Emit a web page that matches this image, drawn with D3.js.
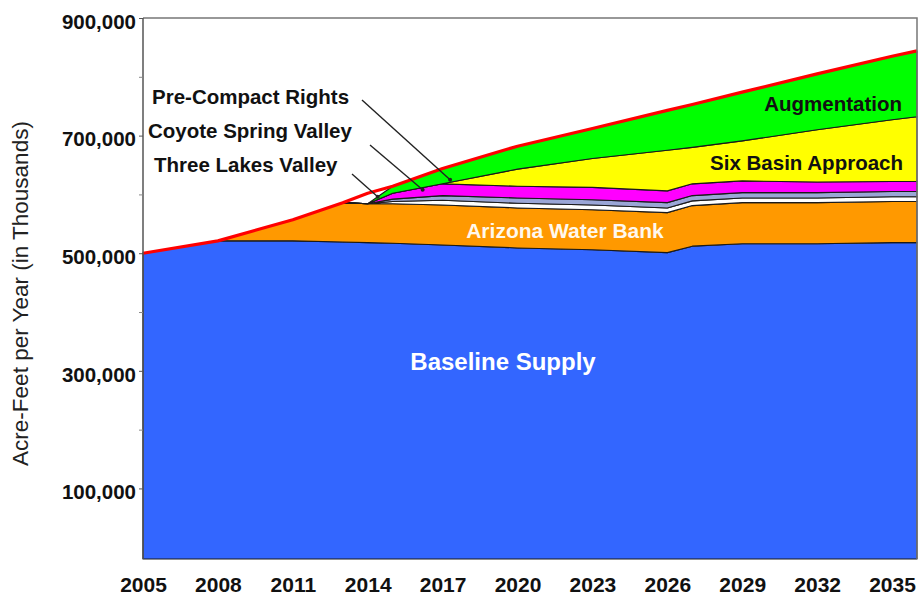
<!DOCTYPE html>
<html><head><meta charset="utf-8">
<script src="https://cdn.jsdelivr.net/npm/d3@7"></script>
<style>body{margin:0;background:#fff}svg{display:block}text{font-family:"Liberation Sans",Arial,sans-serif}</style>
</head><body><svg id="c" width="924" height="601"></svg>
<script>
// ---- data (acre-feet per year) ----
const years = [2005, 2008, 2011, 2013, 2014, 2015, 2017, 2020, 2023, 2026, 2027, 2029, 2032, 2035, 2036];
const baselineSupply     = [500000, 521000, 521000, 519000, 518000, 517000, 514000, 509000, 506000, 501000, 512000, 516000, 516000, 518000, 518000];
const arizonaWaterBank   = [0, 0, 36000, 67000, 66000, 67000, 68000, 68000, 68000, 68000, 69000, 70000, 70000, 70000, 70000];
const threeLakesValley   = [0, 0, 0, 0, 0, 4000, 8000, 8000, 8000, 8000, 8000, 8000, 8000, 8000, 8000];
const coyoteSpringValley = [0, 0, 0, 0, 0, 4000, 8000, 9000, 9000, 9000, 9000, 9000, 9000, 9000, 9000];
const preCompactRights   = [0, 0, 0, 0, 0, 10000, 20000, 20000, 21000, 20000, 20000, 20000, 18000, 17000, 17000];
const sixBasinApproach   = [0, 0, 0, 0, 0, 0, 0, 29000, 49000, 69000, 62000, 68000, 89000, 105000, 110000];
const augmentation       = [0, 0, 0, 0, 0, 12000, 26000, 39000, 51000, 68000, 73000, 83000, 95000, 108000, 112000];
const totalSupply        = [500000, 521000, 557000, 586000, 602000, 614000, 644000, 682000, 712000, 743000, 753000, 774000, 805000, 835000, 844000];

const xTickLabels = [2005, 2008, 2011, 2014, 2017, 2020, 2023, 2026, 2029, 2032, 2035];
const yTickLabels = [100000, 300000, 500000, 700000, 900000];
const yMinorTicks = [200000, 400000, 600000, 800000];

const seriesKeys  = ["baseline", "azbank", "threeLakes", "coyote", "preCompact", "sixBasin", "augmentation"];
const seriesColors = ["#3366ff", "#ff9900", "#ffffff", "#9aa6d6", "#ff00ff", "#ffff00", "#00ff00"];

// annotation anchors: [label, year, value]
const annotations = [
  ["Pre-Compact Rights", 2017.3, 625000],
  ["Coyote Spring Valley", 2016.2, 608000],
  ["Three Lakes Valley", 2014.4, 596000]
];

// ---- build table ----
const table = years.map((yr, i) => ({
  year: yr,
  baseline: baselineSupply[i],
  azbank: arizonaWaterBank[i],
  threeLakes: threeLakesValley[i],
  coyote: coyoteSpringValley[i],
  preCompact: preCompactRights[i],
  sixBasin: sixBasinApproach[i],
  augmentation: augmentation[i],
  total: totalSupply[i]
}));

const svg = d3.select("#c");
const x = d3.scaleLinear().domain([2005, 2036]).range([143, 917]);
const y = d3.scaleLinear().domain([-20000, 900000]).range([559, 18]);
const yBottom = y.domain()[0];

const stacked = d3.stack().keys(seriesKeys)(table);

const area = d3.area()
  .x(d => x(d.data.year))
  .y0(d => y(d[0] === 0 ? yBottom : d[0]))
  .y1(d => y(d[1]));

const plot = svg.append("g");
plot.selectAll("path.layer").data(stacked).join("path")
  .attr("class", "layer")
  .attr("d", area)
  .attr("fill", (d, i) => seriesColors[i])
  .attr("stroke", "#1a1a1a")
  .attr("stroke-width", 1.1)
  .attr("stroke-linejoin", "round");

// total red line
plot.append("path")
  .datum(table)
  .attr("d", d3.line().x(d => x(d.year)).y(d => y(d.total)))
  .attr("fill", "none")
  .attr("stroke", "#ff0000")
  .attr("stroke-width", 3.2)
  .attr("stroke-linejoin", "round");

// frame
const x0 = x.range()[0], x1 = x.range()[1], yTop = y(900000), yBot = y(yBottom);
svg.append("path")
  .attr("d", `M${x0},${yTop}H${x1}V${yBot}`)
  .attr("fill", "none").attr("stroke", "#777").attr("stroke-width", 1.5);

// y axis
const yAxis = svg.append("g").attr("transform", `translate(${x0},0)`)
  .call(d3.axisLeft(y).tickValues(yTickLabels).tickFormat(d3.format(",")).tickSizeOuter(0).tickSize(4).tickPadding(3));
yAxis.select(".domain").attr("stroke", "#555").attr("stroke-width", 1.5)
  .attr("d", `M0,${yTop}V${yBot}`);
yAxis.selectAll(".tick line").attr("stroke", "#555");
yAxis.selectAll(".tick text").attr("font-size", 20.5).attr("font-weight", "bold").attr("fill", "#111").attr("dy", "0.5em");
const yMinor = svg.append("g").attr("transform", `translate(${x0},0)`)
  .call(d3.axisLeft(y).tickValues(yMinorTicks).tickFormat("").tickSize(4));
yMinor.select(".domain").remove();
yMinor.selectAll(".tick line").attr("stroke", "#888");

// x axis
const xAxis = svg.append("g").attr("transform", `translate(0,${yBot})`)
  .call(d3.axisBottom(x).tickValues(xTickLabels).tickFormat(d3.format("d")).tickSize(0).tickPadding(18));
xAxis.select(".domain").remove();
xAxis.selectAll(".tick text").attr("font-size", 21).attr("font-weight", "bold").attr("fill", "#111");

// y title
svg.append("text")
  .attr("transform", `translate(28,${(yTop + yBot) / 2 + 5}) rotate(-90)`)
  .attr("text-anchor", "middle")
  .attr("font-size", 22.5)
  .attr("fill", "#222")
  .text("Acre-Feet per Year (in Thousands)");

// in-area labels
svg.append("text").attr("x", 503).attr("y", 370).attr("text-anchor", "middle")
  .attr("font-size", 24).attr("font-weight", "bold").attr("fill", "#fff").text("Baseline Supply");
svg.append("text").attr("x", 565).attr("y", 238).attr("text-anchor", "middle")
  .attr("font-size", 21).attr("font-weight", "bold").attr("fill", "#fff8ee").text("Arizona Water Bank");
svg.append("text").attr("x", 902).attr("y", 111).attr("text-anchor", "end")
  .attr("font-size", 20.5).attr("font-weight", "bold").attr("fill", "#111").text("Augmentation");
svg.append("text").attr("x", 903).attr("y", 170).attr("text-anchor", "end")
  .attr("font-size", 20.5).attr("font-weight", "bold").attr("fill", "#111").text("Six Basin Approach");

// annotation labels with leader lines
const labelPos = [[152, 104, 362, 100], [148, 138, 370, 145], [154, 172, 352, 174]];
annotations.forEach((a, i) => {
  const p = labelPos[i];
  svg.append("text").attr("x", p[0]).attr("y", p[1])
    .attr("font-size", 20.5).attr("font-weight", "bold").attr("fill", "#111").text(a[0]);
  svg.append("line").attr("x1", p[2]).attr("y1", p[3]).attr("x2", x(a[1])).attr("y2", y(a[2]))
    .attr("stroke", "#222").attr("stroke-width", 1.4);
  svg.append("circle").attr("cx", x(a[1])).attr("cy", y(a[2])).attr("r", 2).attr("fill", "#222");
});
</script>
</body></html>
